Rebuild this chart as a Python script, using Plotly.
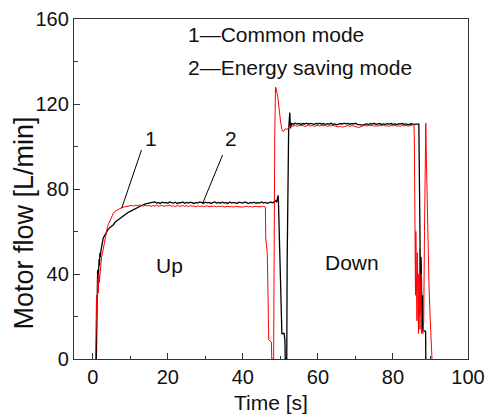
import numpy as np
import plotly.graph_objects as go

# ---------------- data (time in s, flow in L/min) ----------------
# Series 1: Common mode (black)
common_rise_t = [0.95, 1.0, 1.05, 1.1, 1.15, 1.2, 1.3, 1.4, 1.5,
                 1.6, 1.7, 1.8, 1.9, 2.0, 2.2, 2.4, 2.6, 2.8, 3.0,
                 3.25, 3.5, 3.8, 4.1, 4.5, 5.0, 5.5, 6.0, 6.5, 7.0,
                 7.5, 8.1, 8.7, 9.3, 10.0, 10.7, 11.4, 12.1, 12.8, 13.5,
                 14.3]
common_rise_y = [0, 6, 33, 20, 38, 28, 42, 35.6, 44,
                 40, 47, 44, 50, 48, 51.3, 54, 55.5, 57, 57.6,
                 58.5, 59.5, 60.2, 61, 61.8, 62.5, 63.2, 64.5, 65.2, 66,
                 66.6, 67.3, 68.1, 68.8, 69.5, 70.2, 70.9, 71.6, 72.2, 72.7,
                 73.1]
common_up_start = 15.0
common_up_y = [73.3, 73.7, 73.5, 73.9, 73.4, 73.6, 73.2, 73.8, 73.5, 73.7,
               73.3, 73.9, 73.6, 73.4, 73.8, 73.2, 73.6, 73.5, 73.9, 73.3,
               73.7, 73.4, 73.8, 73.5, 73.2, 73.7, 73.4, 73.9, 73.6, 73.3,
               73.8, 73.5, 73.7, 73.2, 73.6, 73.9, 73.4, 73.7, 73.3, 73.8,
               73.5, 73.6, 73.2, 73.9, 73.4, 73.7, 73.5, 73.3, 73.8, 73.6,
               73.4, 73.9, 73.5, 73.2, 73.7, 73.4, 73.8, 73.3, 73.6, 73.5,
               73.9, 73.4, 73.7, 73.3, 73.6, 73.8, 73.5, 74.2]
common_switch_t = [48.7, 49.0, 49.2, 49.4, 49.5, 49.8, 50.1, 50.4, 51.0, 51.2,
                   51.3, 51.7, 51.8, 52.0, 52.2, 52.5, 52.7, 53.0]
common_switch_y = [74.5, 74, 75.5, 77, 73, 50, 25, 12, 12, 9,
                   0, 0, 45, 85, 108, 116, 108.5, 110.8]
common_down_start = 53.5
common_down_y = [110.5, 111.0, 110.6, 110.9, 110.4, 110.8, 110.6, 111.0, 110.5, 110.9,
                 110.7, 110.4, 110.9, 110.6, 111.0, 110.5, 110.8, 110.3, 110.7, 110.5,
                 110.9, 110.4, 110.6, 110.2, 110.5, 110.8, 110.6, 111.0, 110.7, 110.9,
                 110.5, 110.8, 110.6, 111.0, 110.4, 110.3, 110.2, 110.1, 110.4, 110.6,
                 110.3, 110.7, 110.5, 110.9, 110.4, 110.6, 110.8, 110.3, 110.6, 110.4,
                 110.7, 110.5, 110.8, 110.4, 110.6, 110.3, 110.7, 110.5, 110.8, 110.4,
                 110.6, 110.3, 110.5, 110.7, 110.4, 110.6, 110.5]
common_stop_t = [86.9, 87.0, 87.1, 87.2, 87.3, 87.4, 87.5, 87.6, 87.7, 87.8,
                 87.9, 88.0, 88.7, 88.75]
common_stop_y = [110.5, 90, 59, 40, 55, 25, 48, 18, 38, 14,
                 30, 13.6, 13, 0]

# Series 2: Energy saving mode (red)
saving_rise_t = [0.75, 0.8, 0.9, 1.0, 1.1, 1.2, 1.3, 1.4, 1.5,
                 1.6, 1.75, 1.9, 2.05, 2.2, 2.35, 2.5, 2.65, 2.8, 3.0,
                 3.2, 3.45, 3.7, 3.95, 4.2, 4.6, 5.0, 5.5, 6.0, 6.6,
                 7.2, 7.8, 8.5, 9.2]
saving_rise_y = [0, 28, 18, 30, 22, 34, 27, 38, 31,
                 40, 36, 39, 44, 46, 48, 49, 50.5, 51.3, 54,
                 56, 58.5, 60.7, 62.5, 63.6, 65.4, 67, 68.6, 69.6, 70.3,
                 70.9, 71.3, 71.6, 71.9]
saving_up_start = 10.0
saving_up_y = [72.0, 72.3, 71.9, 72.4, 72.1, 72.5, 72.2, 71.9, 72.4, 72.0,
               72.3, 71.8, 72.2, 72.0, 72.4, 71.9, 72.1, 72.3, 71.8, 72.2,
               72.0, 72.4, 71.9, 72.1, 71.7, 72.2, 72.0, 71.8, 72.3, 71.9,
               72.1, 71.7, 72.2, 71.9, 72.0, 71.6, 72.1, 71.8, 72.0, 71.7,
               71.9, 72.1, 71.6, 71.9, 71.8, 72.0, 71.6, 71.9, 71.7, 72.0,
               71.5, 71.8, 71.9, 71.6, 71.8, 71.5, 71.9, 71.7, 71.6, 71.8,
               71.5, 71.7, 71.9, 71.6, 71.8, 71.5, 71.7, 71.9, 71.6, 71.8,
               71.7, 71.8]
saving_switch_t = [45.8, 46.0, 46.1, 46.5, 46.8, 46.9, 47.6, 47.7, 48.2, 48.3,
                   48.5, 48.7, 48.9, 49.3, 49.6, 50.0, 50.4, 50.8, 51.3, 51.8,
                   52.4, 53.0]
saving_switch_y = [71.8, 71.5, 57, 50, 20, 9, 8, 0, 0, 55,
                   105, 128, 127, 123.4, 117, 112.5, 107.8, 107, 108.3, 108,
                   109.3, 109.5]
saving_down_start = 53.5
saving_down_y = [109.6, 109.9, 109.5, 110.0, 109.7, 109.9, 109.4, 109.8, 110.1, 109.6,
                 109.9, 109.5, 109.8, 110.0, 109.6, 109.9, 109.7, 110.1, 109.5, 109.8,
                 109.6, 110.0, 109.7, 109.3, 109.2, 109.5, 109.1, 109.4, 109.6, 109.9,
                 109.5, 109.8, 109.6, 109.2, 109.1, 109.0, 109.3, 109.8, 110.1, 109.6,
                 109.9, 109.7, 110.0, 109.5, 109.8, 109.6, 109.9, 109.7, 110.1, 109.6,
                 109.8, 109.5, 109.9, 109.7, 110.0, 109.6, 109.8, 109.5, 109.9, 109.7,
                 110.0, 109.6, 109.8, 110.1, 110.3]
saving_stop_t = [85.6, 85.7, 85.9, 86.0, 86.1, 86.2, 86.3, 86.4, 86.5, 86.6,
                 86.7, 86.8, 86.9, 87.0, 87.1, 87.2, 87.3, 87.4, 87.5, 87.6,
                 87.8, 88.0, 88.2, 88.4, 88.6, 88.75, 88.9, 89.1, 89.3, 89.6,
                 89.9, 90.2, 90.4]
saving_stop_y = [110.3, 104, 64, 30, 60, 25, 55, 18, 50, 15,
                 45, 12, 40, 20, 52, 14, 35, 22, 40, 12,
                 14, 12, 18, 60, 100, 111, 95, 72, 50, 35,
                 20, 8, 0]

SAMPLE_STEP = 0.5

x_ticks = [0, 20, 40, 60, 80, 100]
y_ticks = [0, 40, 80, 120, 160]
legend_lines = ["1\u2014Common mode", "2\u2014Energy saving mode"]


def plateau_times(start, values):
    return [start + SAMPLE_STEP * i for i in range(len(values))]


common_t = (common_rise_t + plateau_times(common_up_start, common_up_y) + common_switch_t
            + plateau_times(common_down_start, common_down_y) + common_stop_t)
common_y = common_rise_y + common_up_y + common_switch_y + common_down_y + common_stop_y
saving_t = (saving_rise_t + plateau_times(saving_up_start, saving_up_y) + saving_switch_t
            + plateau_times(saving_down_start, saving_down_y) + saving_stop_t)
saving_y = saving_rise_y + saving_up_y + saving_switch_y + saving_down_y + saving_stop_y

FONT = "Liberation Sans, Arial, sans-serif"
TXT = "#111111"

fig = go.Figure()
fig.add_trace(go.Scatter(x=common_t, y=common_y, mode="lines",
                         line=dict(color="#000000", width=1.3), name="Common mode"))
fig.add_trace(go.Scatter(x=saving_t, y=saving_y, mode="lines",
                         line=dict(color="#ff0000", width=1.0), name="Energy saving mode"))

axis_common = dict(showgrid=False, zeroline=False, showline=True, mirror=True,
                   linecolor="#333333", linewidth=1.3, ticks="inside", ticklen=6,
                   tickwidth=1, tickcolor="#333333", automargin=False,
                   tickfont=dict(family=FONT, size=20, color=TXT))

fig.update_xaxes(range=[-5, 100], tickvals=x_ticks,
                 minor=dict(dtick=10, ticks="inside", ticklen=3, tickcolor="#333333"),
                 title=dict(text="Time [s]", font=dict(family=FONT, size=21, color=TXT),
                            standoff=8),
                 **axis_common)
fig.update_yaxes(range=[0, 160], tickvals=y_ticks,
                 minor=dict(dtick=20, ticks="inside", ticklen=4, tickcolor="#333333"),
                 **axis_common)

annotations = [
    dict(x=24.9, y=152.5, text=legend_lines[0], xanchor="left", yanchor="middle"),
    dict(x=24.9, y=137.3, text=legend_lines[1], xanchor="left", yanchor="middle"),
    dict(x=15.4, y=103.8, text="1", xanchor="center", yanchor="middle"),
    dict(x=36.9, y=104.0, text="2", xanchor="center", yanchor="middle"),
    dict(x=20.5, y=44.2, text="Up", xanchor="center", yanchor="middle"),
    dict(x=69.1, y=45.2, text="Down", xanchor="center", yanchor="middle"),
]
for a in annotations:
    a.update(xref="x", yref="y", showarrow=False,
             font=dict(family=FONT, size=21, color=TXT))
    fig.add_annotation(**a)

fig.add_annotation(xref="paper", yref="y", x=-0.128, y=64, text="Motor flow [L/min]",
                   textangle=-90, showarrow=False, xanchor="center", yanchor="middle",
                   font=dict(family=FONT, size=27, color=TXT))

# leader lines from the curve labels to the curves
fig.add_shape(type="line", xref="x", yref="y", x0=13.0, y0=98.4, x1=7.7, y1=70.9,
              line=dict(color="#000000", width=1))
fig.add_shape(type="line", xref="x", yref="y", x0=34.6, y0=96.0, x1=29.3, y1=73.3,
              line=dict(color="#000000", width=1))

fig.update_layout(width=488, height=420, margin=dict(l=74, r=20, t=19, b=61),
                  paper_bgcolor="white", plot_bgcolor="white", showlegend=False)

fig.write_html("out.html")
